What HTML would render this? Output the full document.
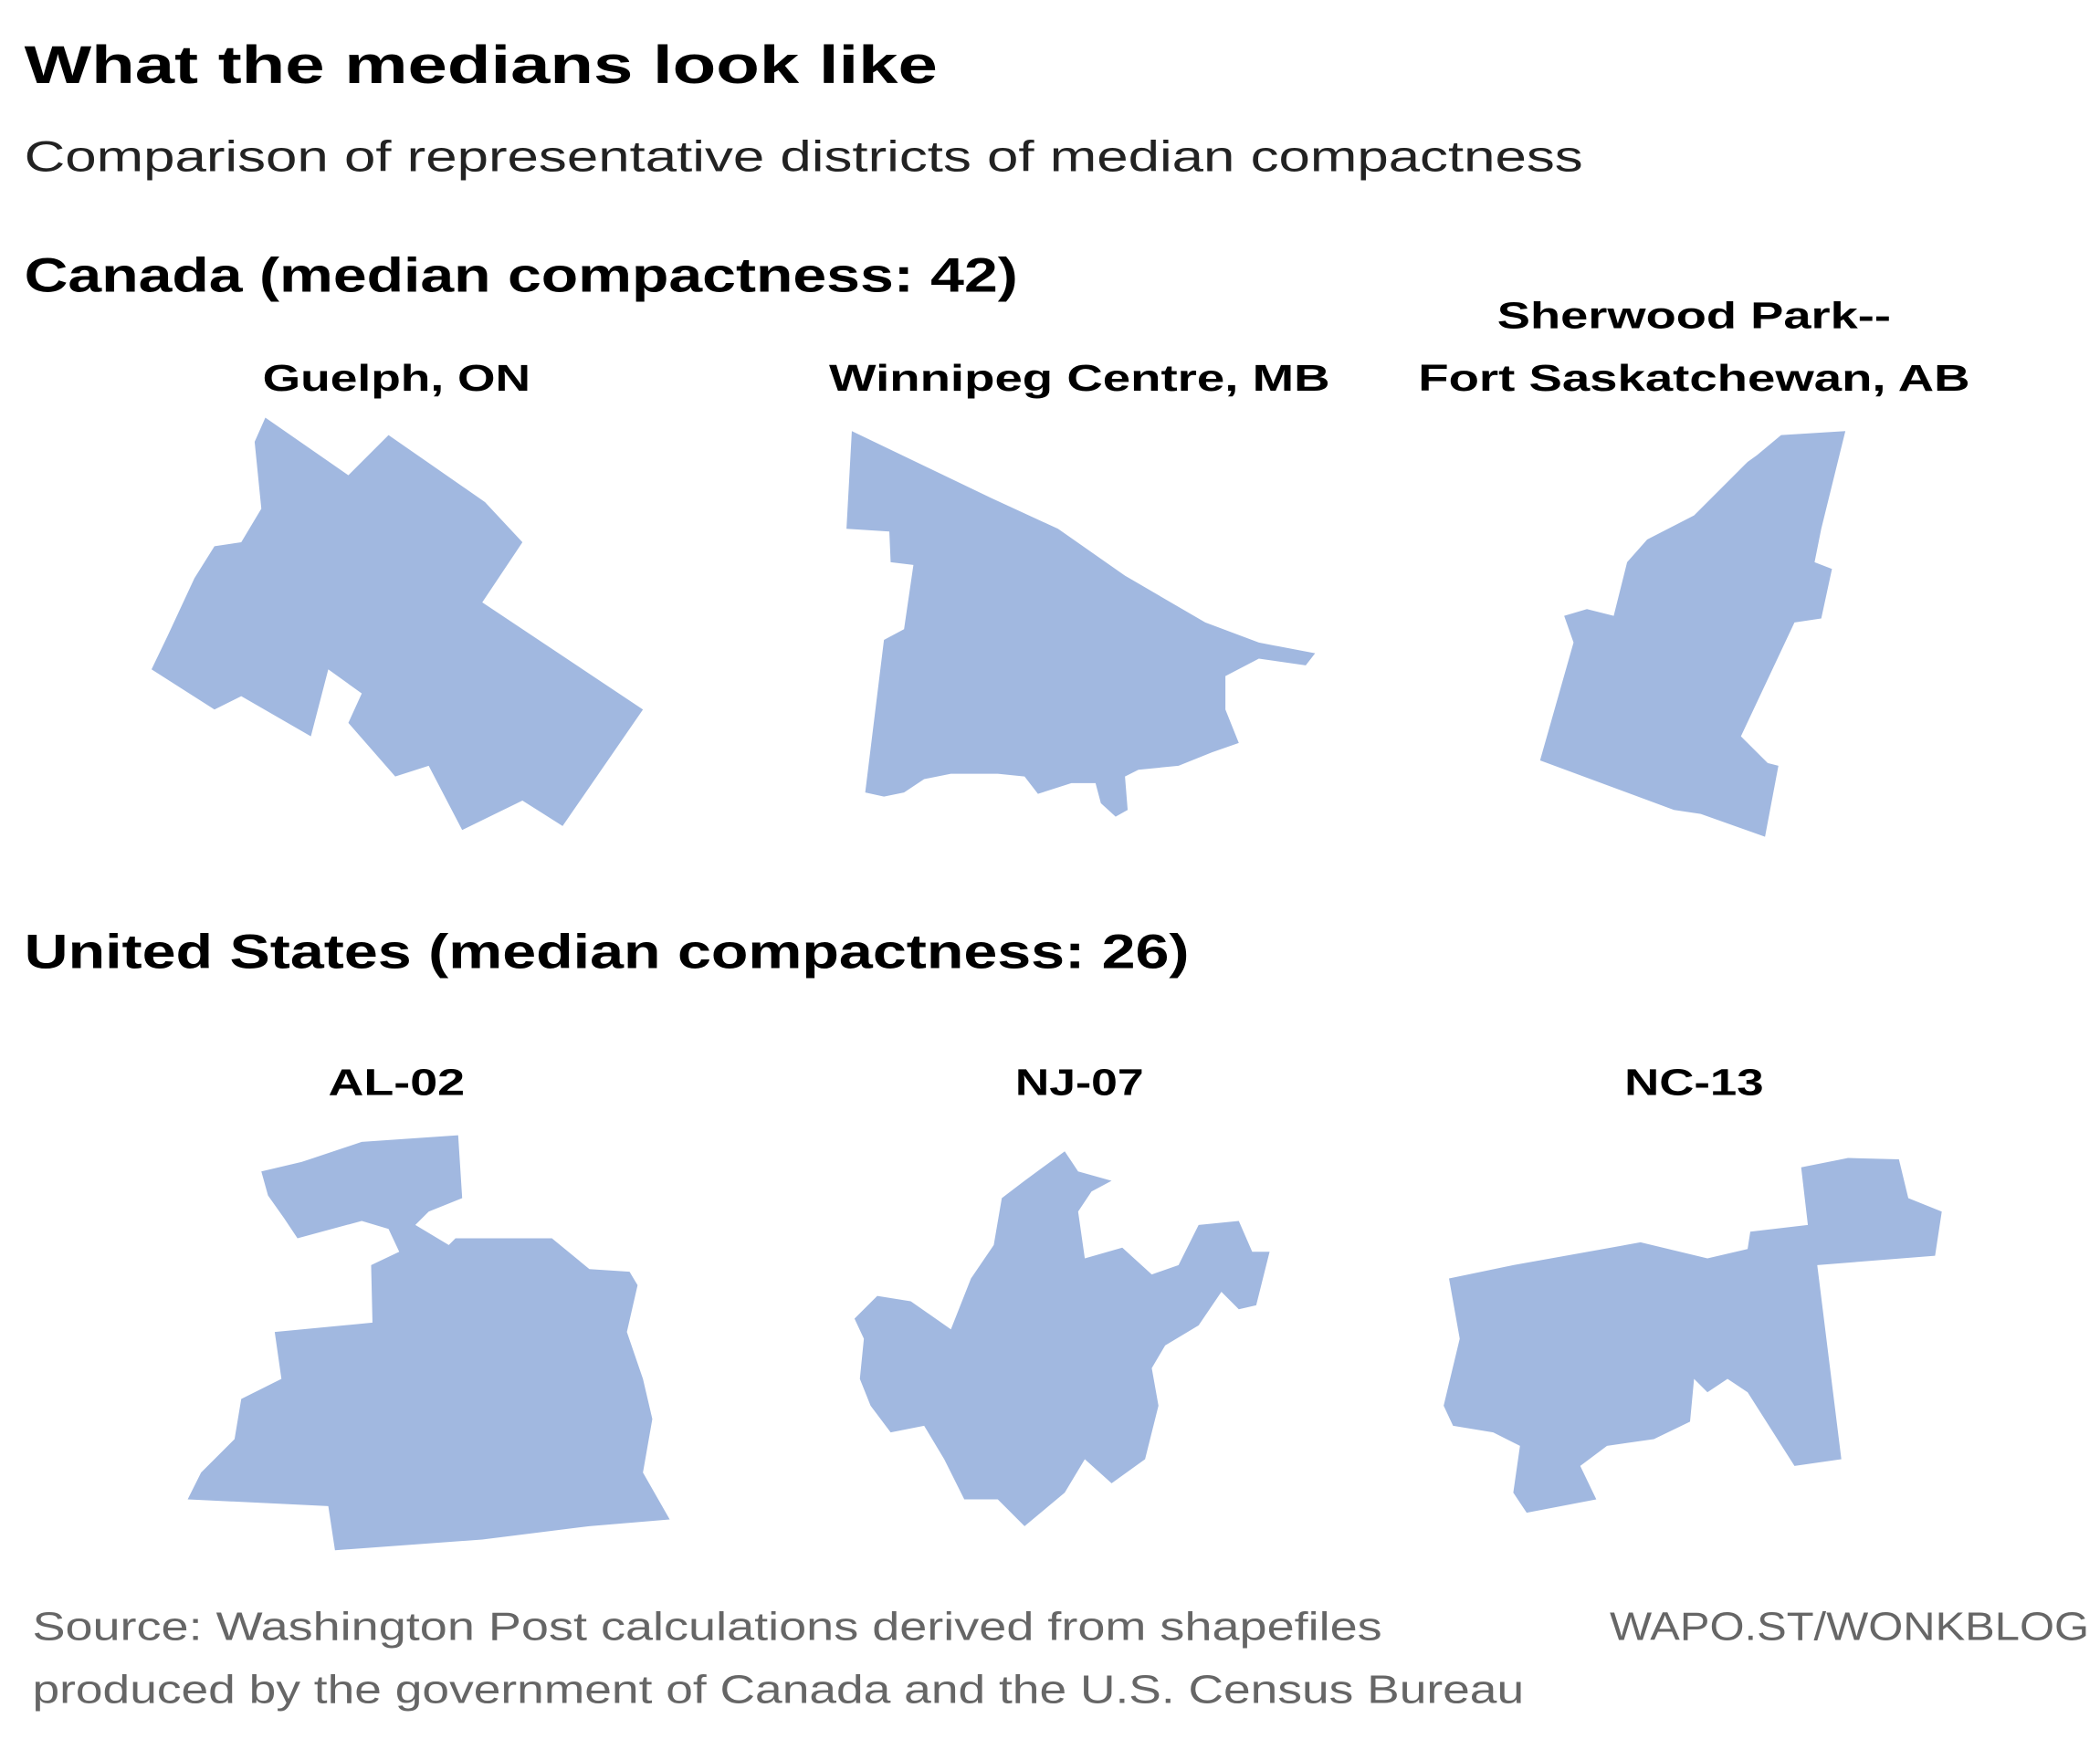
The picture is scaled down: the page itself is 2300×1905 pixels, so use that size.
<!DOCTYPE html>
<html><head><meta charset="utf-8"><style>html,body{margin:0;padding:0;background:#fff}svg{display:block}</style></head>
<body>
<svg width="2300" height="1905" viewBox="0 0 1568 1299" xmlns="http://www.w3.org/2000/svg" font-family="'Liberation Sans', sans-serif">
<text x="18" y="62" font-size="40" font-weight="bold" textLength="682" lengthAdjust="spacingAndGlyphs">What the medians look like</text>
<text x="18" y="128" font-size="32" fill="#222" textLength="1164" lengthAdjust="spacingAndGlyphs">Comparison of representative districts of median compactness</text>
<text x="18" y="218" font-size="36" font-weight="bold" textLength="742" lengthAdjust="spacingAndGlyphs">Canada (median compactness: 42)</text>
<text x="18" y="723" font-size="36" font-weight="bold" textLength="870" lengthAdjust="spacingAndGlyphs">United States (median compactness: 26)</text>
<g font-size="28" font-weight="bold" text-anchor="middle">
<text x="296" y="292" textLength="200" lengthAdjust="spacingAndGlyphs">Guelph, ON</text>
<text x="806" y="292" textLength="374" lengthAdjust="spacingAndGlyphs">Winnipeg Centre, MB</text>
<text x="1265" y="245" textLength="294" lengthAdjust="spacingAndGlyphs">Sherwood Park--</text>
<text x="1265" y="292" textLength="412" lengthAdjust="spacingAndGlyphs">Fort Saskatchewan, AB</text>
<text x="296" y="818" textLength="102" lengthAdjust="spacingAndGlyphs">AL-02</text>
<text x="806" y="818" textLength="96" lengthAdjust="spacingAndGlyphs">NJ-07</text>
<text x="1265" y="818" textLength="104" lengthAdjust="spacingAndGlyphs">NC-13</text>
</g>
<g fill="#a1b8e0">
<polygon points="198,312 260,355 290,325 362,375 390,405 360,450 480,530 420,617 390,598 345,620 320,572 295,580 260,540 270,518 245,500 232,550 180,520 160,530 113,500 125,475 145,432 160,408 180,405 195,380 190,330"/>
<polygon points="636,322 740,372 790,395 840,430 900,465 940,480 982,488 975,497 940,492 915,505 915,530 925,555 905,562 880,572 850,575 840,580 842,605 833,610 822,600 818,585 800,585 775,593 765,580 745,578 710,578 690,582 675,592 660,595 646,592 660,478 675,470 682,422 665,420 664,397 632,395"/>
<polygon points="1330,325 1378,322 1360,395 1355,420 1368,425 1360,462 1340,465 1300,550 1320,570 1328,572 1318,625 1270,608 1250,605 1150,568 1175,480 1168,460 1185,455 1205,460 1215,420 1230,403 1265,385 1280,370 1305,345 1312,340"/>
<polygon points="195,875 225,868 270,853 342,848 345,895 320,905 310,915 335,930 340,925 412,925 440,948 470,950 476,960 468,995 480,1030 487,1060 480,1100 500,1135 440,1140 360,1150 250,1158 245,1125 140,1120 150,1100 175,1075 180,1045 210,1030 205,995 278,988 277,945 298,935 290,918 270,912 222,925 212,910 200,893"/>
<polygon points="795,860 805,875 830,882 815,890 805,905 810,940 838,932 860,952 880,945 895,915 925,912 935,935 948,935 938,975 925,978 912,965 895,990 870,1005 860,1022 865,1050 855,1090 830,1108 810,1090 795,1115 765,1140 745,1120 720,1120 705,1090 690,1065 665,1070 650,1050 642,1030 645,1000 638,985 655,968 680,972 710,993 725,955 742,930 748,895 765,882"/>
<polygon points="1345,872 1380,865 1418,866 1425,895 1450,905 1445,938 1357,945 1375,1090 1340,1095 1305,1040 1290,1030 1275,1040 1265,1030 1262,1062 1235,1075 1200,1080 1180,1095 1192,1120 1140,1130 1130,1115 1135,1080 1115,1070 1085,1065 1078,1050 1090,1000 1082,955 1130,945 1225,928 1275,940 1305,933 1307,920 1350,915"/>
</g>
<g fill="#666" font-size="30">
<text x="24" y="1225" textLength="1008" lengthAdjust="spacingAndGlyphs">Source: Washington Post calculations derived from shapefiles</text>
<text x="24" y="1272" textLength="1114" lengthAdjust="spacingAndGlyphs">produced by the government of Canada and the U.S. Census Bureau</text>
<text x="1560" y="1225" text-anchor="end" textLength="358" lengthAdjust="spacingAndGlyphs">WAPO.ST/WONKBLOG</text>
</g>
</svg>
</body></html>
